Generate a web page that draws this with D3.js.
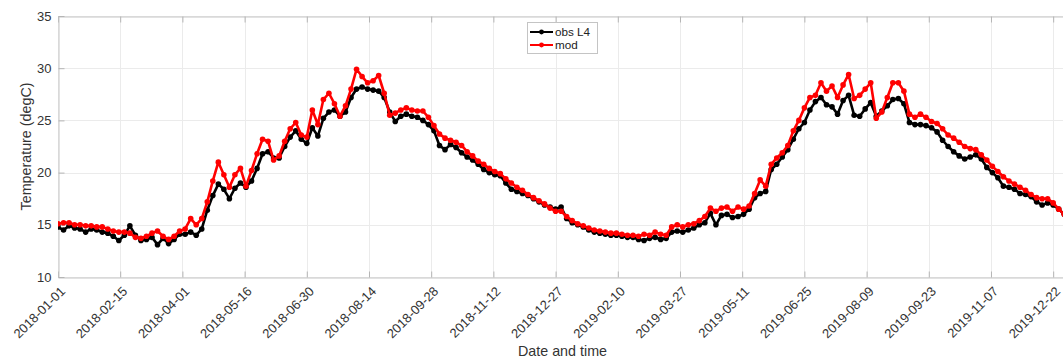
<!DOCTYPE html>
<html>
<head>
<meta charset="utf-8">
<script src="https://cdn.jsdelivr.net/npm/d3@7"></script>
<style>
  html, body { margin: 0; padding: 0; background: #ffffff; }
  svg { display: block; font-family: "Liberation Sans", Arial, Helvetica, sans-serif; }
</style>
</head>
<body>
<svg id="chart" width="1063" height="358"></svg>
<script>
// ---- data: sea temperature at station L4, one sample every 4 days from 2018-01-01 ----
const startDate = "2018-01-01";
const endDate = "2020-01-01";
const stepDays = 4;

const obsL4 = [
  14.8, 14.5, 14.9, 14.7, 14.6, 14.3, 14.6, 14.5, 14.3, 14.2,
  13.9, 13.5, 14.0, 14.9, 14.0, 13.5, 13.6, 13.8, 13.1, 13.7,
  13.2, 13.6, 14.1, 14.1, 14.3, 14.0, 14.6, 16.4, 17.8, 18.9,
  18.4, 17.5, 18.5, 19.0, 18.6, 19.2, 20.4, 21.8, 22.0, 21.4,
  21.4, 22.5, 23.4, 24.0, 23.2,
  22.8, 24.3, 23.5, 25.2, 25.8, 26.0, 25.4, 25.8, 27.2, 28.0,
  28.2, 28.0, 27.9, 27.8, 27.2, 25.8, 24.9, 25.4, 25.6, 25.4,
  25.3, 25.0, 24.6, 24.0, 22.6, 22.2, 22.7, 22.4, 21.9, 21.5,
  21.2, 20.8, 20.3, 20.0, 19.8, 19.7, 19.0, 18.4, 18.2, 18.0,
  17.8, 17.5, 17.2, 16.9, 16.7,
  16.5, 16.7, 15.6, 15.2, 15.0, 14.8, 14.5, 14.3, 14.2, 14.1,
  14.0, 14.0, 13.9, 13.8, 13.8, 13.6, 13.5, 13.7, 13.8, 13.6,
  13.7, 14.3, 14.4, 14.3, 14.5, 14.7, 15.0, 15.2, 16.1, 15.0,
  15.9, 16.0, 15.7, 15.8, 16.0, 16.5, 17.6, 18.0, 18.2, 20.3,
  20.8, 21.5, 22.2,
  23.2, 24.2, 24.8, 26.0, 26.8, 27.2, 26.5, 26.3, 25.6, 26.9,
  27.4, 25.5, 25.4, 26.1, 26.7, 25.4, 25.9, 26.4, 27.0, 27.1,
  26.6, 24.8, 24.6, 24.6, 24.5, 24.3, 23.9, 23.1, 22.5, 22.0,
  21.6, 21.3, 21.5, 21.7, 21.3, 20.5, 20.0, 19.5, 18.7, 18.6,
  18.4, 18.0, 17.9, 17.7, 17.2, 16.9, 17.1, 16.9, 16.5, 16.0
];

const mod = [
  15.1, 15.2, 15.2, 15.0, 15.0, 14.9, 14.9, 14.8, 14.8, 14.6,
  14.4, 14.3, 14.3, 14.2, 13.8, 13.7, 13.9, 14.2, 14.4, 13.9,
  13.6, 13.9, 14.4, 14.6, 15.6, 15.0, 15.6, 17.2, 19.2, 21.0,
  19.8, 18.6, 19.8, 20.4, 18.7, 20.2, 21.8, 23.2, 23.0, 21.2,
  21.6, 23.0, 24.2, 24.8, 23.6,
  23.4, 26.0, 24.6, 27.0, 27.6, 26.6, 25.4, 26.4, 28.0, 29.9,
  29.2, 28.6, 28.8, 29.3, 27.6, 25.5, 25.7, 26.0, 26.2, 26.0,
  25.9, 25.9, 25.3, 24.5, 23.7, 23.3, 23.1, 22.9, 22.6, 22.0,
  21.6, 21.1, 20.8, 20.4, 20.1, 19.9, 19.4, 19.0, 18.6, 18.3,
  17.9, 17.6, 17.3, 17.0, 16.6,
  16.3, 16.3, 15.8, 15.4, 15.1, 14.9, 14.7, 14.5, 14.4, 14.3,
  14.2, 14.2, 14.1, 14.0, 14.0, 13.9, 14.1, 14.0, 14.3, 14.1,
  14.0, 14.8, 15.0, 14.8, 15.0, 15.1, 15.4, 15.8, 16.6, 16.3,
  16.6, 16.7, 16.3, 16.7, 16.5, 16.8, 18.0, 19.3, 18.7, 20.8,
  21.4, 21.9, 22.6,
  24.0, 25.0, 26.2, 27.2, 27.4, 28.6, 27.8, 28.3, 27.2, 28.4,
  29.4, 27.1, 27.4, 28.0, 28.6, 25.2, 25.8, 27.2, 28.6, 28.6,
  27.8, 25.6, 25.3, 25.6, 25.3, 24.9, 24.7, 24.2, 23.6, 23.3,
  22.9, 22.5, 22.3, 22.2, 21.7, 21.2, 20.6, 20.1, 19.6, 19.2,
  18.9, 18.6, 18.3, 17.9, 17.6, 17.5, 17.5, 17.1, 16.5, 16.0
];

const xTickLabels = [
  "2018-01-01", "2018-02-15", "2018-04-01", "2018-05-16", "2018-06-30",
  "2018-08-14", "2018-09-28", "2018-11-12", "2018-12-27", "2019-02-10",
  "2019-03-27", "2019-05-11", "2019-06-25", "2019-08-09", "2019-09-23",
  "2019-11-07", "2019-12-22"
];
const yTicks = [10, 15, 20, 25, 30, 35];

const seriesNames = ["obs L4", "mod"];
const seriesColors = ["#000000", "#ff0000"];

// ---- layout ----
const svg = d3.select("#chart");
const plot = { left: 58, right: 1067, top: 16, bottom: 277 };

const parseDate = d3.utcParse("%Y-%m-%d");
const x = d3.scaleUtc()
  .domain([parseDate(startDate), parseDate(endDate)])
  .range([plot.left, plot.right]);
const y = d3.scaleLinear()
  .domain([10, 35])
  .range([plot.bottom, plot.top]);

const t0 = parseDate(startDate);
const toPoints = vals => vals.map((v, i) => ({ date: d3.utcDay.offset(t0, i * stepDays), value: v }));
const series = [toPoints(obsL4), toPoints(mod)];
const xTickDates = xTickLabels.map(parseDate);

// ---- grid ----
const grid = svg.append("g").attr("class", "grid");
grid.selectAll("line.gx").data(xTickDates).join("line")
  .attr("class", "gx")
  .attr("x1", d => Math.round(x(d)) + 0.5).attr("x2", d => Math.round(x(d)) + 0.5)
  .attr("y1", plot.top).attr("y2", plot.bottom)
  .attr("stroke", "#ebebeb").attr("stroke-width", 1);
grid.selectAll("line.gy").data(yTicks).join("line")
  .attr("class", "gy")
  .attr("x1", plot.left).attr("x2", plot.right)
  .attr("y1", d => Math.round(y(d)) + 0.5).attr("y2", d => Math.round(y(d)) + 0.5)
  .attr("stroke", "#ebebeb").attr("stroke-width", 1);

// ---- axes (boxed: bottom/left labelled, top mirrored ticks) ----
const axisColor = "#c6c6c6";
const tickLen = 6;

const xAxis = d3.axisBottom(x)
  .tickValues(xTickDates)
  .tickSizeInner(-tickLen).tickSizeOuter(0)
  .tickFormat(d3.utcFormat("%Y-%m-%d"));
const gx = svg.append("g")
  .attr("transform", `translate(0,${plot.bottom + 0.5})`)
  .call(xAxis);
gx.select(".domain").attr("stroke", axisColor);
gx.selectAll(".tick line").attr("stroke", "#b5b5b5");
gx.selectAll(".tick text")
  .attr("fill", "#333333")
  .attr("font-size", "13px")
  .attr("font-family", "Liberation Sans, Arial, sans-serif")
  .attr("text-anchor", "end")
  .attr("transform", "translate(1,8) rotate(-45)")
  .attr("x", 0).attr("y", 0).attr("dy", "0.71em");

const xTop = d3.axisTop(x)
  .tickValues(xTickDates)
  .tickSizeInner(-tickLen).tickSizeOuter(0)
  .tickFormat("");
const gxt = svg.append("g")
  .attr("transform", `translate(0,${plot.top + 0.5})`)
  .call(xTop);
gxt.select(".domain").attr("stroke", axisColor);
gxt.selectAll(".tick line").attr("stroke", "#b5b5b5");

const yAxis = d3.axisLeft(y)
  .tickValues(yTicks)
  .tickSizeInner(-tickLen).tickSizeOuter(0)
  .tickFormat(d3.format("d"));
const gy = svg.append("g")
  .attr("transform", `translate(${plot.left + 0.5},0)`)
  .call(yAxis);
gy.select(".domain").attr("stroke", axisColor);
gy.selectAll(".tick line").attr("stroke", "#b5b5b5");
gy.selectAll(".tick text")
  .attr("fill", "#333333")
  .attr("font-size", "13px")
  .attr("font-family", "Liberation Sans, Arial, sans-serif")
  .attr("x", -7);

// ---- data lines with markers ----
const clipId = "plot-clip";
svg.append("clipPath").attr("id", clipId)
  .append("rect")
  .attr("x", plot.left).attr("y", plot.top)
  .attr("width", plot.right - plot.left).attr("height", plot.bottom - plot.top);

const line = d3.line().x(d => x(d.date)).y(d => y(d.value));
const dataG = svg.append("g").attr("clip-path", `url(#${clipId})`);

series.forEach((pts, k) => {
  const g = dataG.append("g");
  g.append("path")
    .datum(pts)
    .attr("d", line)
    .attr("fill", "none")
    .attr("stroke", seriesColors[k])
    .attr("stroke-width", 2.6)
    .attr("stroke-linejoin", "round");
  g.selectAll("circle").data(pts).join("circle")
    .attr("cx", d => x(d.date))
    .attr("cy", d => y(d.value))
    .attr("r", 2.8)
    .attr("fill", seriesColors[k]);
});

// ---- axis titles ----
svg.append("text")
  .attr("x", (plot.left + plot.right) / 2)
  .attr("y", 356)
  .attr("text-anchor", "middle")
  .attr("font-size", "14.3px")
  .attr("fill", "#333333")
  .text("Date and time");

svg.append("text")
  .attr("transform", `translate(31,${(plot.top + plot.bottom) / 2}) rotate(-90)`)
  .attr("text-anchor", "middle")
  .attr("font-size", "14.3px")
  .attr("fill", "#333333")
  .text("Temperature (degC)");

// ---- legend ----
const legend = svg.append("g").attr("transform", "translate(527,22)");
legend.append("rect")
  .attr("x", 0.5).attr("y", 0.5)
  .attr("width", 70).attr("height", 31)
  .attr("fill", "#ffffff")
  .attr("stroke", "#c4c4c4");
seriesNames.forEach((name, k) => {
  const row = legend.append("g").attr("transform", `translate(0,${10 + k * 13})`);
  row.append("line")
    .attr("x1", 3).attr("x2", 26).attr("y1", 0).attr("y2", 0)
    .attr("stroke", seriesColors[k]).attr("stroke-width", 2);
  row.append("circle")
    .attr("cx", 14.5).attr("cy", 0).attr("r", 2.4)
    .attr("fill", seriesColors[k]);
  row.append("text")
    .attr("x", 28).attr("y", 0).attr("dy", "0.35em")
    .attr("font-size", "11.7px")
    .attr("fill", "#222222")
    .text(name);
});
</script>
</body>
</html>
